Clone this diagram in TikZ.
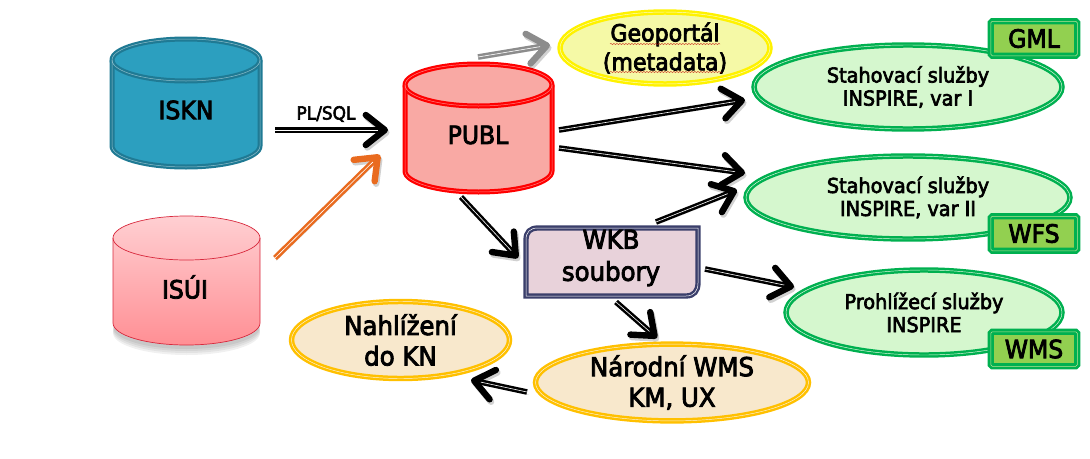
\documentclass[tikz,border=0pt]{standalone}
\usepackage{fontspec}
\setmainfont{DejaVu Sans}[FakeStretch=0.94,FakeBold=3.2]
\usetikzlibrary{arrows.meta,shapes.geometric,decorations.pathmorphing}
\definecolor{isknfill}{HTML}{2C9FBF}
\definecolor{isknline}{HTML}{1F7A94}
\definecolor{publfill}{HTML}{F9A9A4}
\definecolor{grn}{HTML}{00B050}
\definecolor{grnfill}{HTML}{D5F7CE}
\definecolor{boxfill}{HTML}{92D050}
\definecolor{amber}{HTML}{FFC000}
\definecolor{amberfill}{HTML}{F8E8CC}
\definecolor{geofill}{HTML}{F5F9A6}
\definecolor{wkbfill}{HTML}{E8D2DA}
\definecolor{wkbline}{HTML}{3B3F6B}
\definecolor{orng}{HTML}{E96B1F}
\definecolor{grayarrow}{HTML}{8C8C8C}
\definecolor{isuitop}{HTML}{FFCFD2}
\definecolor{isuibot}{HTML}{FF8F94}
\definecolor{isuiline}{HTML}{D8283C}
\tikzset{
  oval/.style={ellipse,inner sep=0pt,align=center,line width=2.5pt,double distance=0.45pt,text=black},
  svc/.style={oval,draw=grn,double=grnfill!50!white,fill=grnfill,font=\fontsize{20.5}{23}\selectfont},
  kn/.style={oval,draw=amber,double=amberfill!50!white,fill=amberfill,font=\fontsize{26}{30.5}\selectfont},
  geo/.style={oval,draw=yellow,double=geofill!50!white,fill=geofill,font=\fontsize{23.5}{29}\selectfont},
  tag/.style={rectangle,rounded corners=1.5pt,inner sep=0pt,draw=grn,fill=boxfill,line width=2.8pt,double=boxfill!60!white,double distance=0.5pt,minimum width=86.5pt,minimum height=34.5pt,font=\fontsize{25}{28}\selectfont},
  lbl/.style={inner sep=0pt,align=center,text=black},
  arr/.style={line width=5.6pt,draw=#1,line join=round,
    -{Straight Barb[length=19pt,width=30pt,line width=6.4pt,round]},
    preaction={draw=black,opacity=.18,transform canvas={xshift=1.5pt,yshift=-2.5pt}},
    postaction={draw=white,line width=.6pt,-{},shorten >=10pt}},
  arr/.default=black,
  wavy/.style={draw=red!75!black,line width=.5pt,opacity=.7,decorate,decoration={snake,amplitude=.6pt,segment length=3pt}}
}
% centre x, half width, top-ellipse centre y, bottom-ellipse centre y, ry, fill, line, width
\newcommand{\cylshape}[8]{%
  \path[fill=#6] (#1-#2,#3) arc[start angle=180,end angle=360,x radius=#2,y radius=#5] -- (#1+#2,#4) arc[start angle=0,end angle=180,x radius=#2,y radius=#5] -- cycle;
  \draw[draw=#7,line width=#8] (#1-#2,#3) arc[start angle=180,end angle=360,x radius=#2,y radius=#5] -- (#1+#2,#4) arc[start angle=0,end angle=180,x radius=#2,y radius=#5] -- cycle;
  \draw[draw=#7,line width=#8] (#1-#2,#3) arc[start angle=180,end angle=0,x radius=#2,y radius=#5];
  \draw[draw=white,opacity=.5,line width=.5pt] (#1-#2,#3) arc[start angle=180,end angle=360,x radius=#2,y radius=#5] -- (#1+#2,#4) arc[start angle=0,end angle=180,x radius=#2,y radius=#5] -- cycle;
  \draw[draw=white,opacity=.5,line width=.5pt] (#1-#2,#3) arc[start angle=180,end angle=0,x radius=#2,y radius=#5];
}
\begin{document}
\begin{tikzpicture}[x=1pt,y=-1pt]
\useasboundingbox (0,0) rectangle (1090,458);
% ISKN
\cylshape{186}{74}{60}{146}{21}{isknfill}{isknline}{5pt}
\node[lbl,font=\fontsize{25}{28}\selectfont] (iskn) at (186,110) {ISKN};
% ISUI
\foreach \s in {2,4,6,8}
  \fill[black,opacity=.06] (186.5,325+\s) ellipse[x radius=73.5,y radius=22];
\path[top color=isuitop,bottom color=isuibot,draw=isuiline,line width=.7pt]
  (113,238) arc[start angle=180,end angle=360,x radius=73.5,y radius=22] -- (260,323) arc[start angle=0,end angle=180,x radius=73.5,y radius=22] -- cycle;
\draw[draw=isuiline,line width=.7pt] (113,238) arc[start angle=180,end angle=0,x radius=73.5,y radius=22];
\node[lbl,font=\fontsize{25}{28}\selectfont] (isui) at (185,287) {ISÚI};
% PUBL
\cylshape{478.5}{73.5}{85}{171}{21}{publfill}{red}{5pt}
\node[lbl,font=\fontsize{25}{28}\selectfont] (publ) at (478,135) {PUBL};
% Geoportal
\node[geo,minimum width=210pt,minimum height=66pt] (geop) at (665,48) {Geoportál\\(metadata)};
\draw[wavy] (610,44) -- (720,44);
\draw[wavy] (610,72) -- (722,72);
% services
\node[svc,minimum width=308pt,minimum height=84pt] (var1) at (908,87) {Stahovací služby\\INSPIRE, var I};
\node[svc,minimum width=324pt,minimum height=83pt] (var2) at (908,197.5) {\raisebox{2.5pt}{Stahovací služby}\\\raisebox{2.5pt}{INSPIRE, var II}};
\node[svc,minimum width=276pt,minimum height=85pt] (wmsv) at (924,312.5) {Prohlížecí služby\\INSPIRE};
\node[tag] (gml) at (1034,38.5) {GML};
\node[tag] (wfs) at (1034,233.5) {WFS};
\node[tag] (wms) at (1034,349) {WMS};
% WKB
\draw[fill=wkbfill,draw=wkbline,line width=2.4pt,double=white,double distance=.5pt]
  (526,296) -- (526,240) .. controls (526,232) and (530,228) .. (538,228)
  -- (698,228) -- (698,283) .. controls (698,291) and (694,296) .. (686,296) -- cycle;
\node[lbl,font=\fontsize{26}{32}\selectfont] (wkb) at (611,258) {WKB\\soubory};
% KN
\node[kn,minimum width=218pt,minimum height=77pt] (nahl) at (400.5,340) {Nahlížení\\do KN};
\node[kn,minimum width=273pt,minimum height=74pt] (narod) at (672,382.5) {Národní WMS\\KM, UX};
% connectors
\draw[arr] ([shift={(89,20)}]iskn.center) -- ([shift={(-90,-5)}]publ.center);
\node[lbl,font=\fontsize{18}{20}\selectfont] (plsql) at (326,114) {PL/SQL};
\draw[arr=orng] ([shift={(90,-29)}]isui.center) -- ([shift={(-98,20)}]publ.center);
\draw[arr=grayarrow] ([shift={(0,-78)}]publ.center) -- ([shift={(-115,-3)}]geop.center);
\draw[arr] ([shift={(81,-5)}]publ.center) -- ([shift={(-163,13)}]var1.center);
\draw[arr] ([shift={(81,13)}]publ.center) -- ([shift={(-163,-24.5)}]var2.center);
\draw[arr] ([shift={(45,-36)}]wkb.center) -- ([shift={(-171,-7.5)}]var2.center);
\draw[arr] ([shift={(-17,62)}]publ.center) -- ([shift={(-93,0)}]wkb.center);
\draw[arr] ([shift={(94,11)}]wkb.center) -- ([shift={(-130,-25.5)}]wmsv.center);
\draw[arr] ([shift={(5,44)}]wkb.center) -- ([shift={(-15,-44.5)}]narod.center);
\draw[arr] ([shift={(-145,9.5)}]narod.center) -- ([shift={(70.5,40)}]nahl.center);
\end{tikzpicture}
\end{document}
